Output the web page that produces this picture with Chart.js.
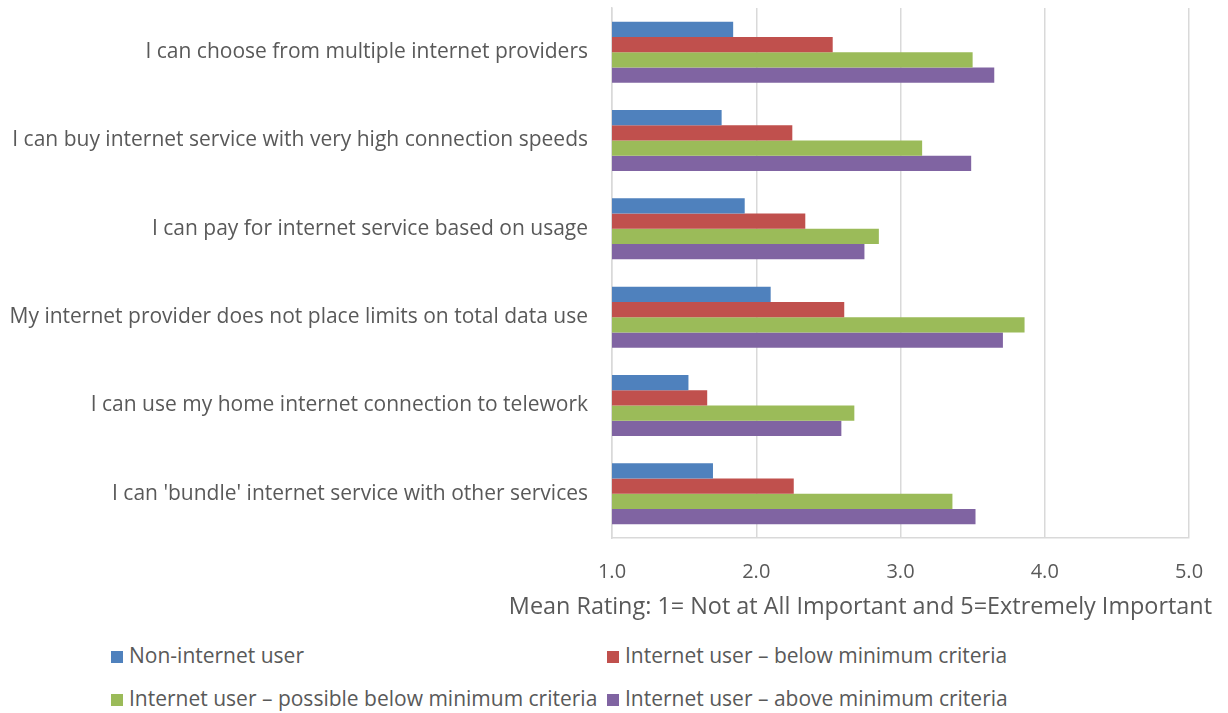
<!DOCTYPE html>
<html>
<head>
<meta charset="utf-8">
<script src="https://cdn.jsdelivr.net/npm/chart.js@4/dist/chart.umd.min.js"></script>
<style>
  body { margin: 0; background: #fff; font-family: "Open Sans", Lato, sans-serif; }
  #wrap { position: relative; width: 1228px; height: 713px; }
  #chart { position: absolute; left: 0; top: 0; }
  .leg { position: absolute; font-size: 21px; color: #595959; white-space: nowrap; line-height: 24px; }
  .leg span.sw { display: inline-block; width: 12px; height: 12px; margin-right: 6px; vertical-align: 0px; }
</style>
</head>
<body>
<div id="wrap">
  <canvas id="chart" width="1228" height="630"></canvas>
  <div id="legend"></div>
</div>
<script>
const categories = [
  "I can choose from multiple internet providers",
  "I can buy internet service with very high connection speeds",
  "I can pay for internet service based on usage",
  "My internet provider does not place limits on total data use",
  "I can use my home internet connection to telework",
  "I can 'bundle' internet service with other services"
];
const seriesNames = [
  "Non-internet user",
  "Internet user \u2013 below minimum criteria",
  "Internet user \u2013 possible below minimum criteria",
  "Internet user \u2013 above minimum criteria"
];
const nonUser      = [1.84, 1.76, 1.92, 2.10, 1.53, 1.70];
const belowMin     = [2.53, 2.25, 2.34, 2.61, 1.66, 2.26];
const possibleBelow= [3.50, 3.15, 2.85, 3.86, 2.68, 3.36];
const aboveMin     = [3.65, 3.49, 2.75, 3.71, 2.59, 3.52];
const xTicks = [1, 2, 3, 4, 5];
const axisTitle = "Mean Rating: 1= Not at All Important and 5=Extremely Important";

const colors = ["#4F81BD", "#C0504D", "#9BBB59", "#8064A2"];
const allSeries = [nonUser, belowMin, possibleBelow, aboveMin];
const textColor = "#595959";
const fontFamily = "'Open Sans', Lato, sans-serif";

// x axis title, right aligned a bit past the plot like the original
const axisTitlePlugin = {
  id: 'axisTitle',
  afterDraw(chart) {
    const ctx = chart.ctx;
    const area = chart.chartArea;
    ctx.save();
    ctx.font = "23.4px " + fontFamily;
    ctx.fillStyle = textColor;
    ctx.textAlign = "right";
    ctx.textBaseline = "middle";
    ctx.fillText(axisTitle, area.right + 23, area.bottom + 69);
    ctx.restore();
  }
};

const chart = new Chart(document.getElementById('chart'), {
  type: 'bar',
  data: {
    labels: categories,
    datasets: allSeries.map((d, i) => ({
      label: seriesNames[i],
      data: d,
      backgroundColor: colors[i],
      borderWidth: 0,
      categoryPercentage: 0.69,
      barPercentage: 1.0
    }))
  },
  options: {
    indexAxis: 'y',
    responsive: false,
    animation: false,
    layout: { padding: { left: 8, top: 8, right: 39, bottom: 8 } },
    plugins: {
      legend: { display: false },
      tooltip: { enabled: false }
    },
    scales: {
      x: {
        min: 1,
        max: 5,
        afterBuildTicks: (s) => { s.ticks = xTicks.map(v => ({ value: v })); },
        afterFit: (s) => { s.height = 84; s.paddingLeft = 0; s.paddingRight = 0; },
        grid: { color: "#d9d9d9", lineWidth: 1.5, drawTicks: false },
        border: { display: true, color: "#d9d9d9", width: 1.5 },
        ticks: {
          padding: 22,
          color: textColor,
          font: { family: fontFamily, size: 20 },
          callback: (v) => Number(v).toFixed(1)
        }
      },
      y: {
        afterFit: (s) => { s.width = 604; s.paddingTop = 0; s.paddingBottom = 0; },
        grid: { display: false, drawTicks: false },
        border: { display: true, color: "#d9d9d9", width: 1.5 },
        ticks: {
          padding: 24,
          color: textColor,
          font: { family: fontFamily, size: 21 }
        }
      }
    }
  },
  plugins: [axisTitlePlugin]
});

// legend in two columns like the original
const legendPos = [[111, 643], [607, 643], [111, 686], [607, 686]];
const legendEl = document.getElementById('legend');
seriesNames.forEach((name, i) => {
  const div = document.createElement('div');
  div.className = 'leg';
  div.style.left = legendPos[i][0] + 'px';
  div.style.top = legendPos[i][1] + 'px';
  div.innerHTML = '<span class="sw" style="background:' + colors[i] + '"></span>' + name;
  legendEl.appendChild(div);
});
</script>
</body>
</html>
